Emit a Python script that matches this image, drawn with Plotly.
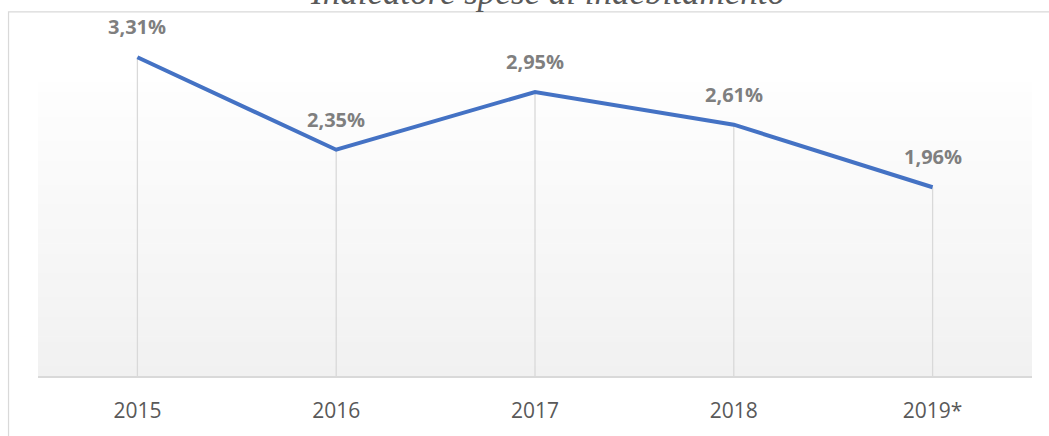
import plotly.graph_objects as go

categories = ["2015", "2016", "2017", "2018", "2019*"]
values = [3.31, 2.35, 2.95, 2.61, 1.96]
labels = ["3,31%", "2,35%", "2,95%", "2,61%", "1,96%"]
title_text = "Indicatore spese di indebitamento"

W, H = 1049, 436
ML, MR, MT, MB = 37.5, 16.5, 39, 55
plot_h = H - MT - MB

fig = go.Figure()

# drop lines from each point to the axis
fig.add_trace(go.Scatter(
    x=categories, y=values, mode="markers",
    marker=dict(size=1, opacity=0),
    error_y=dict(type="data", symmetric=False, array=[0] * len(values),
                 arrayminus=values, color="#d9d9d9", thickness=1.3, width=0),
    hoverinfo="skip", showlegend=False,
))

# main line
fig.add_trace(go.Scatter(
    x=categories, y=values, mode="lines",
    line=dict(color="#4472c4", width=4),
    showlegend=False,
))

# data labels
for i, (v, t) in enumerate(zip(values, labels)):
    fig.add_annotation(x=i, y=v, text=t, showarrow=False, yanchor="bottom",
                       yshift=15,
                       font=dict(family="Open Sans", size=20, color="#7f7f7f",
                                 weight="bold"))

# gradient background of plot area (white at top -> light grey at bottom)
shapes = []
g_top_px = 83
g_top = (H - MB - g_top_px) / plot_h
n = 60
for i in range(n):
    y0 = g_top * i / n
    y1 = g_top * (i + 1) / n
    frac = (i + 0.5) / n  # 0 bottom, 1 top
    c = round(241 + (254 - 241) * frac)
    shapes.append(dict(type="rect", xref="paper", yref="paper", x0=0, x1=1,
                       y0=y0, y1=y1 + 0.002, fillcolor=f"rgb({c},{c},{c})",
                       line=dict(width=0), layer="below"))

# outer chart border
shapes.append(dict(type="rect", xref="paper", yref="paper",
                   x0=(8 - ML) / (W - ML - MR), x1=1.2,
                   y0=-0.5, y1=(H - MB - 11.5) / plot_h,
                   line=dict(color="#d9d9d9", width=1.2), fillcolor="rgba(0,0,0,0)",
                   layer="below"))

fig.add_annotation(xref="paper", yref="paper",
                   x=(548 - ML) / (W - ML - MR),
                   y=(H - MB - 14) / plot_h, yanchor="bottom",
                   text=title_text, showarrow=False,
                   font=dict(family="Liberation Serif", size=35, color="#595959",
                             style="italic"))

fig.update_layout(
    width=W, height=H,
    margin=dict(l=ML, r=MR, t=MT, b=MB, pad=0),
    paper_bgcolor="white", plot_bgcolor="rgba(0,0,0,0)",
    shapes=shapes,
    showlegend=False,
    xaxis=dict(type="category", range=[-0.5, len(categories) - 0.5],
               showgrid=False, zeroline=False, showline=True,
               linecolor="#d9d9d9", linewidth=1.5, ticks="",
               tickfont=dict(family="Open Sans", size=21, color="#595959"),
               ticklabelstandoff=15, fixedrange=True),
    yaxis=dict(range=[0, 3.5], visible=False, fixedrange=True),
)

fig.write_html("out.html", config={"displayModeBar": False},
               post_script="document.body.style.margin='0';document.body.style.padding='0';")
